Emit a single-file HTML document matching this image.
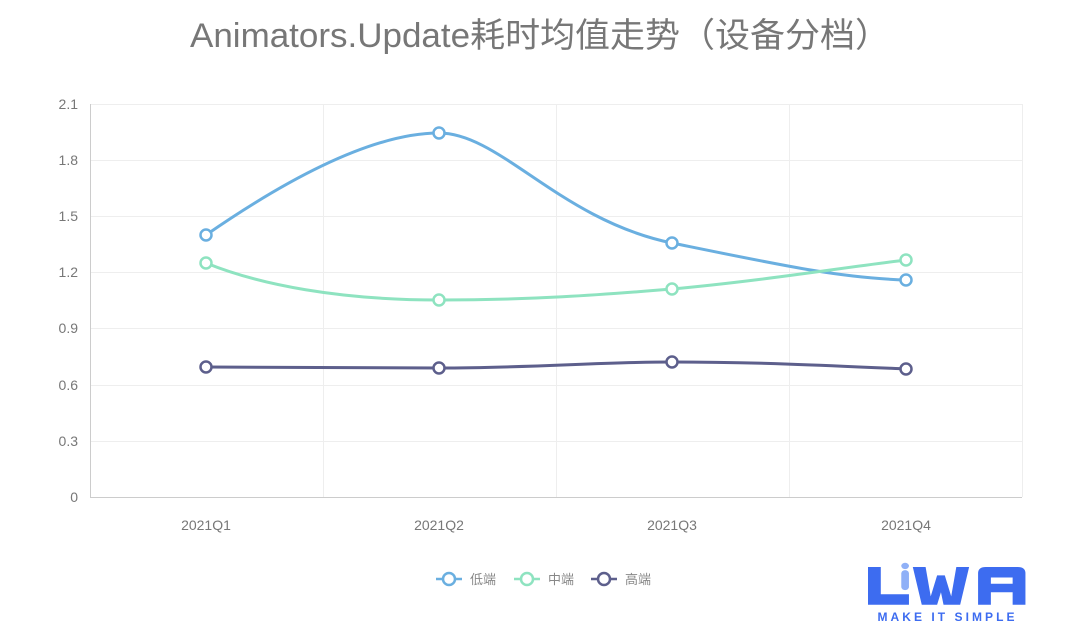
<!DOCTYPE html>
<html><head><meta charset="utf-8"><style>
body{margin:0;background:#fff;}
svg{display:block;font-family:"Liberation Sans","Noto Sans CJK SC",sans-serif;}
</style></head><body>
<svg width="1080" height="633" viewBox="0 0 1080 633">
<text x="540" y="47" text-anchor="middle" font-size="34" fill="#777" textLength="700" lengthAdjust="spacingAndGlyphs">Animators.Update耗时均值走势（设备分档）</text>
<g stroke="#eeeeee" stroke-width="1">
<line x1="90" y1="104.5" x2="1022" y2="104.5"/>
<line x1="90" y1="160.5" x2="1022" y2="160.5"/>
<line x1="90" y1="216.5" x2="1022" y2="216.5"/>
<line x1="90" y1="272.5" x2="1022" y2="272.5"/>
<line x1="90" y1="328.5" x2="1022" y2="328.5"/>
<line x1="90" y1="385.5" x2="1022" y2="385.5"/>
<line x1="90" y1="441.5" x2="1022" y2="441.5"/>
<line x1="323.5" y1="104" x2="323.5" y2="497"/>
<line x1="556.5" y1="104" x2="556.5" y2="497"/>
<line x1="789.5" y1="104" x2="789.5" y2="497"/>
<line x1="1022.5" y1="104" x2="1022.5" y2="497"/>
</g>
<line x1="90.5" y1="104" x2="90.5" y2="497" stroke="#ccc"/>
<line x1="90" y1="497.5" x2="1022" y2="497.5" stroke="#ccc"/>
<g font-size="14" fill="#777" text-anchor="end">
<text x="78" y="109">2.1</text><text x="78" y="165">1.8</text><text x="78" y="221">1.5</text>
<text x="78" y="277">1.2</text><text x="78" y="333">0.9</text><text x="78" y="390">0.6</text>
<text x="78" y="446">0.3</text><text x="78" y="502">0</text>
</g>
<g font-size="14" fill="#777" text-anchor="middle">
<text x="206" y="530">2021Q1</text><text x="439" y="530">2021Q2</text>
<text x="672" y="530">2021Q3</text><text x="906" y="530">2021Q4</text>
</g>
<g fill="none" stroke-width="3">
<path stroke="#6aafe0" d="M206,235 C300,170 380,133 439,133 C500,133 560,220 672,243 C780,265 840,278 906,280"/>
<path stroke="#8ee3c0" d="M206,263 C260,285 340,300 439,300 C530,300 600,295 672,289 C760,281 840,268 906,260"/>
<path stroke="#5d5f8c" d="M206,367 C300,368 380,368 439,368 C530,368 600,362 672,362 C760,362 840,366 906,369"/>
</g>
<g fill="#fff" stroke-width="2.5">
<g stroke="#6aafe0"><circle cx="206" cy="235" r="5.5"/><circle cx="439" cy="133" r="5.5"/><circle cx="672" cy="243" r="5.5"/><circle cx="906" cy="280" r="5.5"/></g>
<g stroke="#8ee3c0"><circle cx="206" cy="263" r="5.5"/><circle cx="439" cy="300" r="5.5"/><circle cx="672" cy="289" r="5.5"/><circle cx="906" cy="260" r="5.5"/></g>
<g stroke="#5d5f8c"><circle cx="206" cy="367" r="5.5"/><circle cx="439" cy="368" r="5.5"/><circle cx="672" cy="362" r="5.5"/><circle cx="906" cy="369" r="5.5"/></g>
</g>
<g font-size="13" fill="#888" stroke-width="2.5">
<line x1="436" y1="579" x2="462" y2="579" stroke="#6aafe0"/><circle cx="449" cy="579" r="6" fill="#fff" stroke="#6aafe0"/>
<text x="470" y="584">低端</text>
<line x1="514" y1="579" x2="540" y2="579" stroke="#8ee3c0"/><circle cx="527" cy="579" r="6" fill="#fff" stroke="#8ee3c0"/>
<text x="548" y="584">中端</text>
<line x1="591" y1="579" x2="617" y2="579" stroke="#5d5f8c"/><circle cx="604" cy="579" r="6" fill="#fff" stroke="#5d5f8c"/>
<text x="625" y="584">高端</text>
</g>
<g transform="translate(868,567) scale(1.28,1.05) translate(-775,-569)">
<path d="M775,569 h10 v26 h22 v10 h-32 z" fill="#3d6cf0"/>
<rect x="801" y="572" width="6" height="19" rx="3" fill="#8fb0f7"/>
<circle cx="804" cy="568" r="3" fill="#8fb0f7"/>
<path d="M810,569 h10 l4,28 l5,-20 h6 l5,20 l4,-28 h10 l-7,36 h-13 l-2,-12 l-3,12 h-12 z" fill="#3d6cf0"/>
<path d="M861,605 v-30 q0,-6 6,-6 h25 q6,0 6,6 v30 h-10 v-12 h-17 v12 z M871,585 h17 v-6 h-17 z" fill="#3d6cf0"/>
</g>
<text x="946" y="621" text-anchor="middle" font-size="12" font-weight="bold" fill="#3d6cf0" textLength="137" lengthAdjust="spacing">MAKE IT SIMPLE</text>
</svg>
</body></html>
